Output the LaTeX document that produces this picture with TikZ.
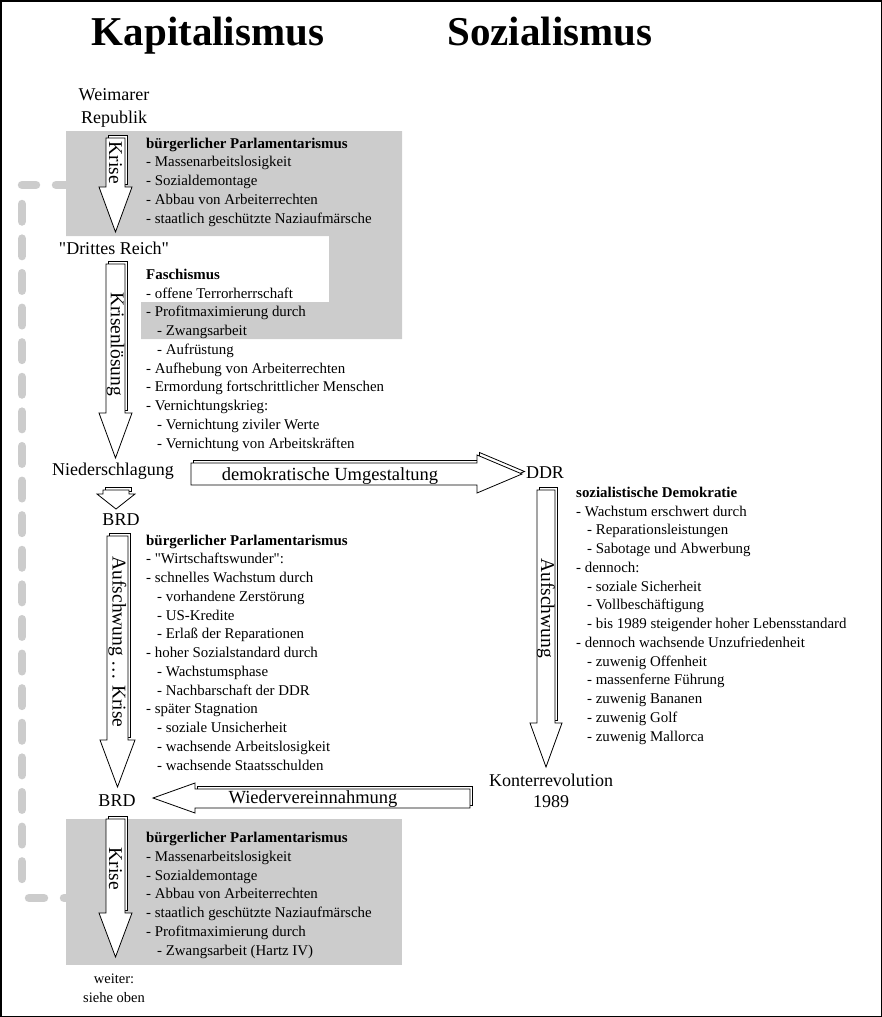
\documentclass[tikz,border=0pt]{standalone}
\usepackage{fontspec}
\setmainfont{Liberation Serif}
\definecolor{grau}{RGB}{204,204,204}

\begin{document}
\begin{tikzpicture}[x=1pt,y=-1pt,line join=miter,
    titel/.style={font=\fontsize{41}{48}\selectfont\bfseries, anchor=base, inner sep=0pt},
    ort/.style={font=\fontsize{18}{22}\selectfont, anchor=base, align=center, inner sep=0pt},
    liste/.style={font=\fontsize{14.9}{18.75}\selectfont, anchor=base west, align=left, inner sep=0pt},
    pfeil/.style={draw=black, fill=white, line width=0.8pt},
    pfeiltext/.style={font=\fontsize{18.5}{22}\selectfont, inner sep=0pt},
    senkrecht/.style={pfeiltext, font=\fontsize{19.5}{22}\selectfont, rotate=-90},
    strich/.style={draw=grau, line width=8.5pt, line cap=round}]
    \useasboundingbox (0,0) rectangle (882,1017);

    % gestrichelte Rueckfuehrung (weiter: siehe oben)
    \draw[strich, dash pattern=on 14pt off 20pt] (22,185) -- (70,185);
    \draw[strich, dash pattern=on 17.5pt off 17.1pt] (22,204) -- (22,879);
    \draw[strich, dash pattern=on 15pt off 20pt] (29,898) -- (70,898);

    % graue Felder
    \fill[grau] (66,131) -- (402,131) -- (402,339) -- (141,339) -- (141,302)
        -- (329,302) -- (329,236) -- (66,236) -- cycle;
    \fill[grau] (66,819) rectangle (402,965);

    % Ueberschriften
    \node[titel] (kapital) at (208,45) {Kapitalismus};
    \node[titel] (sozial) at (550,45) {Sozialismus};

    % Stationen (bei mehrzeiligen Knoten liegt base auf der letzten Zeile)
    \node[ort, font=\fontsize{18}{23}\selectfont] (weimar) at (114,123) {Weimarer\\Republik};
    \node[ort] (reich) at (114,254) {\textquotedbl Drittes Reich\textquotedbl};
    \node[ort] (nieder) at (113,475) {Niederschlagung};
    \node[ort] (brdA) at (121,525) {BRD};
    \node[ort] (brdB) at (117,806) {BRD};
    \node[ort] (ddr) at (545,478) {DDR};
    \node[ort, font=\fontsize{18}{21}\selectfont] (konter) at (551,807) {Konterrevolution\\1989};
    \node[ort, font=\fontsize{14.5}{19}\selectfont] (weiter) at (114,1002) {weiter:\\siehe oben};

    % Pfeil: Krise (Weimar -> Drittes Reich)
    \filldraw[pfeil, shift={(2.5,-2.5)}] (106,138) rectangle (125,187);
    \filldraw[pfeil] (106,138) -- (125,138) -- (125,187) -- (132,187)
        -- (115.5,232) -- (99,187) -- (106,187) -- cycle;
    \node[senkrecht] (krise1) at (115.5,163) {Krise};

    % Pfeil: Krisenloesung
    \filldraw[pfeil, shift={(2.5,-2.5)}] (106,264) rectangle (125,413);
    \filldraw[pfeil] (106,264) -- (125,264) -- (125,413) -- (132,413)
        -- (115.5,458) -- (99,413) -- (106,413) -- cycle;
    \node[senkrecht] (loesung) at (115.5,344) {Krisenlösung};

    % kleiner Pfeil: Niederschlagung -> BRD
    \filldraw[pfeil, shift={(2.5,-2.5)}] (103,490) rectangle (129,494);
    \filldraw[pfeil] (103,490) -- (129,490) -- (129,494) -- (135,494)
        -- (116,509) -- (97,494) -- (103,494) -- cycle;

    % Pfeil: Aufschwung ... Krise
    \filldraw[pfeil, shift={(2.5,-2.5)}] (107,536) rectangle (128,740);
    \filldraw[pfeil] (107,536) -- (128,536) -- (128,740) -- (135,740)
        -- (117.5,787) -- (100,740) -- (107,740) -- cycle;
    \node[senkrecht] (aufkrise) at (117.5,642) {Aufschwung\ \ldots\ Krise};

    % Pfeil: Krise (BRD unten)
    \filldraw[pfeil, shift={(2.5,-2.5)}] (106,819) rectangle (125,913);
    \filldraw[pfeil] (106,819) -- (125,819) -- (125,913) -- (132,913)
        -- (115.5,957) -- (99,913) -- (106,913) -- cycle;
    \node[senkrecht] (krise2) at (115.5,869) {Krise};

    % Pfeil: demokratische Umgestaltung
    \filldraw[pfeil, shift={(2.5,-2.5)}] (191,463) -- (477,463) -- (477,455) -- (522,474)
        -- (477,493) -- (477,485) -- (191,485) -- cycle;
    \filldraw[pfeil] (191,463) -- (477,463) -- (477,455) -- (522,474)
        -- (477,493) -- (477,485) -- (191,485) -- cycle;
    \node[pfeiltext, anchor=base] (umgest) at (330,480) {demokratische Umgestaltung};

    % Pfeil: Aufschwung (DDR)
    \filldraw[pfeil, shift={(2.5,-2.5)}] (537,490) rectangle (555,723);
    \filldraw[pfeil] (537,490) -- (555,490) -- (555,723) -- (562,723)
        -- (546,767) -- (530,723) -- (537,723) -- cycle;
    \node[senkrecht] (aufddr) at (546,608) {Aufschwung};

    % Pfeil: Wiedervereinnahmung
    \filldraw[pfeil, shift={(2.5,-2.5)}] (195,789) rectangle (470,808);
    \filldraw[pfeil] (470,789) -- (470,808) -- (195,808) -- (195,813)
        -- (153,798) -- (195,783) -- (195,789) -- cycle;
    \node[pfeiltext, anchor=base] (wieder) at (313,803) {Wiedervereinnahmung};

    % Texte (Koordinate = Grundlinie der letzten Zeile)
    \node[liste] (weimartext) at (146,223) {\textbf{bürgerlicher Parlamentarismus}\\
        - Massenarbeitslosigkeit\\
        - Sozialdemontage\\
        - Abbau von Arbeiterrechten\\
        - staatlich geschützte Naziaufmärsche};
    \node[liste] (fatext) at (146,448) {\textbf{Faschismus}\\
        - offene Terrorherrschaft\\
        - Profitmaximierung durch\\
        \hspace*{11pt}- Zwangsarbeit\\
        \hspace*{11pt}- Aufrüstung\\
        - Aufhebung von Arbeiterrechten\\
        - Ermordung fortschrittlicher Menschen\\
        - Vernichtungskrieg:\\
        \hspace*{11pt}- Vernichtung ziviler Werte\\
        \hspace*{11pt}- Vernichtung von Arbeitskräften};
    \node[liste] (brdtext) at (146,770) {\textbf{bürgerlicher Parlamentarismus}\\
        - \textquotedbl Wirtschaftswunder\textquotedbl :\\
        - schnelles Wachstum durch\\
        \hspace*{11pt}- vorhandene Zerstörung\\
        \hspace*{11pt}- US-Kredite\\
        \hspace*{11pt}- Erlaß der Reparationen\\
        - hoher Sozialstandard durch\\
        \hspace*{11pt}- Wachstumsphase\\
        \hspace*{11pt}- Nachbarschaft der DDR\\
        - später Stagnation\\
        \hspace*{11pt}- soziale Unsicherheit\\
        \hspace*{11pt}- wachsende Arbeitslosigkeit\\
        \hspace*{11pt}- wachsende Staatsschulden};
    \node[liste] (ddrtext) at (576,741) {\textbf{sozialistische Demokratie}\\
        - Wachstum erschwert durch\\
        \hspace*{11pt}- Reparationsleistungen\\
        \hspace*{11pt}- Sabotage und Abwerbung\\
        - dennoch:\\
        \hspace*{11pt}- soziale Sicherheit\\
        \hspace*{11pt}- Vollbeschäftigung\\
        \hspace*{11pt}- bis 1989 steigender hoher Lebensstandard\\
        - dennoch wachsende Unzufriedenheit\\
        \hspace*{11pt}- zuwenig Offenheit\\
        \hspace*{11pt}- massenferne Führung\\
        \hspace*{11pt}- zuwenig Bananen\\
        \hspace*{11pt}- zuwenig Golf\\
        \hspace*{11pt}- zuwenig Mallorca};
    \node[liste] (brdtext2) at (146,955) {\textbf{bürgerlicher Parlamentarismus}\\
        - Massenarbeitslosigkeit\\
        - Sozialdemontage\\
        - Abbau von Arbeiterrechten\\
        - staatlich geschützte Naziaufmärsche\\
        - Profitmaximierung durch\\
        \hspace*{11pt}- Zwangsarbeit (Hartz IV)};

    % Rahmen
    \draw[line width=1.5pt] (0.75,0.75) rectangle (881.25,1016.25);
\end{tikzpicture}
\end{document}
